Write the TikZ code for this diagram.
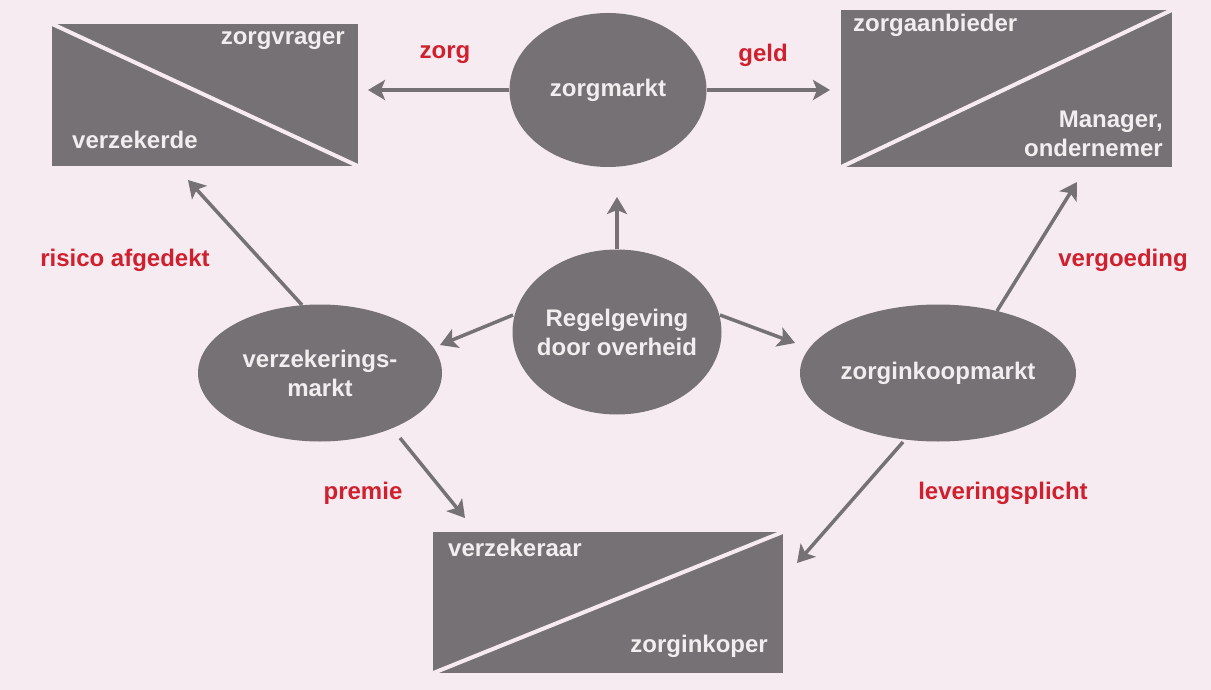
\documentclass[tikz,border=0pt]{standalone}
\usepackage{fontspec}
\setmainfont{Liberation Sans}
\usetikzlibrary{shapes.geometric,arrows.meta}
\definecolor{bgc}{HTML}{F6EBF1}
\definecolor{shapec}{HTML}{767174}
\definecolor{lblc}{HTML}{D0202E}
\definecolor{wtxt}{HTML}{F2EEF0}
\begin{document}
\begin{tikzpicture}[x=1pt,y=-1pt,
  font=\fontsize{24}{29}\selectfont\bfseries,
  box/.style={draw=none, fill=shapec, rectangle, inner sep=0pt},
  oval/.style={ellipse, fill=shapec, text=wtxt, inner ysep=0pt, inner xsep=-12pt, align=center},
  intxt/.style={text=wtxt, inner sep=0pt},
  lab/.style={text=lblc, inner sep=0pt},
  arr/.style={draw=shapec, line width=3.5pt, -{Stealth[length=17pt,width=20pt,inset=4pt]}},
  diag/.style={draw=bgc, line width=4pt}]
\fill[bgc] (0,0) rectangle (1211,690);
\useasboundingbox (0,0) rectangle (1211,690);

% boxes
\node[box, minimum width=306pt, minimum height=142pt] (b1) at (205,95) {};
\node[box, minimum width=331pt, minimum height=157pt] (b2) at (1006.5,88.5) {};
\node[box, minimum width=350pt, minimum height=141pt] (b3) at (608,602.5) {};
\draw[diag] (b1.north west) -- (b1.south east);
\draw[diag] (b2.south west) -- (b2.north east);
\draw[diag] (b3.south west) -- (b3.north east);

% box texts
\node[intxt, anchor=mid east] (t1a) at (345,42) {zorgvrager};
\node[intxt, anchor=mid west] (t1b) at (72,146) {verzekerde};
\node[intxt, anchor=mid west] (t2a) at (853,29) {zorgaanbieder};
\node[intxt, anchor=east, align=right] (t2b) at (1163,134) {Manager,\\ondernemer};
\node[intxt, anchor=mid west] (t3a) at (448,554) {verzekeraar};
\node[intxt, anchor=mid east] (t3b) at (768,650) {zorginkoper};

% ellipses
\node[oval, minimum width=197pt, minimum height=154pt] (zm) at (608,90) {zorgmarkt};
\node[oval, minimum width=209pt, minimum height=165pt] (rg) at (617,332) {Regelgeving\\door overheid};
\node[oval, minimum width=244pt, minimum height=137pt] (vm) at (320,373) {verzekerings-\\markt};
\node[oval, minimum width=276pt, minimum height=137pt] (zk) at (938,373) {zorginkoopmarkt};

% labels
\node[lab] (l1) at (445,55) {zorg};
\node[lab] (l2) at (763,55) {geld};
\node[lab] (l3) at (125,260) {risico afgedekt};
\node[lab] (l4) at (1123,260) {vergoeding};
\node[lab] (l5) at (363,493) {premie};
\node[lab] (l6) at (1003,493) {leveringsplicht};

% arrows
\draw[arr] (zm.west) -- ([shift={(163,-5)}]b1.center);
\draw[arr] (zm.east) -- ([shift={(-176.5,1.5)}]b2.center);
\draw[arr] (rg.north) -- ([shift={(9,107)}]zm.center);
\draw[arr] ([shift={(-104,-17)}]rg.center) -- ([shift={(120,-28)}]vm.center);
\draw[arr] ([shift={(103,-17)}]rg.center) -- ([shift={(-143,-30)}]zk.center);
\draw[arr] ([shift={(-18,-68)}]vm.center) -- ([shift={(-17,85)}]b1.center);
\draw[arr] ([shift={(59,-62)}]zk.center) -- ([shift={(70.5,93.5)}]b2.center);
\draw[arr] ([shift={(80,65)}]vm.center) -- ([shift={(-143,-84.5)}]b3.center);
\draw[arr] ([shift={(-35,69)}]zk.center) -- ([shift={(189,-39.5)}]b3.center);
\end{tikzpicture}
\end{document}
